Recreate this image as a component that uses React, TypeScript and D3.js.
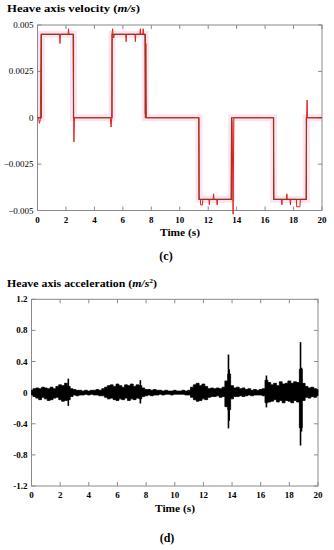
import React from "react";
import * as d3 from "d3";

// velocity (c): reference trajectory and measured response, [time s, m/s]
const velReference: [number, number][] = [
  [0, 0], [0.27, 0], [0.27, 0.0045], [2.53, 0.0045], [2.53, 0], [5.24, 0], [5.24, 0.0045],
  [7.58, 0.0045], [7.58, 0], [11.35, 0], [11.35, -0.0044], [13.65, -0.0044], [13.65, 0],
  [16.6, 0], [16.6, -0.0044], [18.9, -0.0044], [18.9, 0], [20, 0],
];

const velMeasured: [number, number][] = [
  [0, 0], [0.08, 0], [0.13, -0.0003], [0.2, -0.0001], [0.25, 0.0045], [1.55, 0.0045], [1.58, 0.004],
  [1.61, 0.0045], [2.15, 0.0045], [2.18, 0.0048], [2.21, 0.0045], [2.5, 0.0045], [2.54, 0],
  [2.56, -0.0013], [2.6, 0], [5.12, 0], [5.17, -0.0005], [5.22, 0], [5.25, 0.0046], [5.28, 0.0048],
  [5.31, 0.0045], [5.36, 0.0043], [5.4, 0.0045], [6.2, 0.0045], [6.23, 0.0041], [6.26, 0.0045],
  [6.85, 0.0045], [6.88, 0.0041], [6.91, 0.0045], [7.2, 0.0045], [7.23, 0.0048], [7.26, 0.0045],
  [7.4, 0.0045], [7.43, 0.0048], [7.46, 0.0045], [7.55, 0.0045], [7.58, 0.0002], [7.62, 0.004],
  [7.66, 0], [11.33, 0], [11.37, -0.0044], [11.45, -0.0044], [11.47, -0.0047], [11.6, -0.0047],
  [11.62, -0.0044], [12.05, -0.0044], [12.08, -0.0047], [12.11, -0.0044], [12.35, -0.0044],
  [12.38, -0.0041], [12.41, -0.0044], [12.6, -0.0044], [12.63, -0.0047], [12.66, -0.0044],
  [13.6, -0.0044], [13.64, 0], [13.68, -0.0002], [13.75, -0.0052], [13.8, 0], [16.58, 0],
  [16.62, -0.0044], [17.15, -0.0044], [17.18, -0.0047], [17.21, -0.0044], [17.5, -0.0044],
  [17.53, -0.0041], [17.56, -0.0044], [17.75, -0.0044], [17.78, -0.0047], [17.81, -0.0044],
  [18.2, -0.0044], [18.22, -0.0048], [18.45, -0.0048], [18.48, -0.0044], [18.88, -0.0044],
  [18.92, 0], [18.95, 0.00095], [18.98, 0], [20, 0],
];

const velTicks = [0.005, 0.0025, 0, -0.0025, -0.005];
const velTickLabels = ["0.005", "0.0025", "0", "\u22120.0025", "\u22120.005"];

// acceleration (d): envelope of the noisy signal every 0.2 s (m/s²)
const accStep = 0.2;
const accUpper = [
  0.03, 0.05, 0.06, 0.05, 0.07, 0.06, 0.05, 0.07, 0.05, 0.08,
  0.10, 0.09, 0.12, 0.08, 0.05, 0.04, 0.03, 0.03, 0.02, 0.03,
  0.02, 0.03, 0.03, 0.04, 0.03, 0.05, 0.07, 0.09, 0.10, 0.08,
  0.11, 0.09, 0.07, 0.10, 0.09, 0.11, 0.08, 0.10, 0.09, 0.06,
  0.04, 0.04, 0.03, 0.04, 0.03, 0.03, 0.02, 0.03, 0.02, 0.02,
  0.03, 0.02, 0.02, 0.03, 0.02, 0.03, 0.07, 0.10, 0.12, 0.09,
  0.11, 0.08, 0.05, 0.06, 0.05, 0.06, 0.05, 0.07, 0.15, 0.24,
  0.09, 0.06, 0.07, 0.05, 0.06, 0.04, 0.05, 0.03, 0.04, 0.03,
  0.04, 0.05, 0.16, 0.13, 0.10, 0.12, 0.09, 0.14, 0.11, 0.12,
  0.15, 0.12, 0.14, 0.13, 0.30, 0.12, 0.08, 0.06, 0.07, 0.05,
  0.04,
];
const accLower = [
  -0.03, -0.05, -0.07, -0.09, -0.06, -0.08, -0.10, -0.09, -0.07, -0.06,
  -0.09, -0.11, -0.10, -0.09, -0.05, -0.03, -0.04, -0.03, -0.03, -0.02,
  -0.03, -0.02, -0.03, -0.03, -0.04, -0.04, -0.06, -0.08, -0.07, -0.09,
  -0.10, -0.08, -0.09, -0.07, -0.10, -0.08, -0.09, -0.07, -0.08, -0.05,
  -0.04, -0.03, -0.04, -0.03, -0.03, -0.02, -0.03, -0.02, -0.02, -0.03,
  -0.02, -0.02, -0.02, -0.02, -0.03, -0.03, -0.06, -0.09, -0.11, -0.10,
  -0.08, -0.09, -0.06, -0.05, -0.05, -0.04, -0.06, -0.05, -0.18, -0.22,
  -0.08, -0.05, -0.05, -0.04, -0.05, -0.04, -0.03, -0.04, -0.03, -0.03,
  -0.03, -0.04, -0.13, -0.12, -0.11, -0.09, -0.12, -0.10, -0.13, -0.10,
  -0.11, -0.13, -0.10, -0.12, -0.45, -0.10, -0.06, -0.07, -0.05, -0.06,
  -0.04,
];
// isolated peaks
const spikeTimes = [2.57, 7.6, 13.75, 13.8, 16.4, 18.78, 18.85];
const spikeHigh = [0.18, 0.16, 0.49, 0.3, 0.22, 0.65, 0.32];
const spikeLow = [-0.17, -0.14, -0.46, -0.36, -0.19, -0.68, -0.5];

const accTicks = [1.2, 0.8, 0.4, 0, -0.4, -0.8, -1.2];
const accTickLabels = ["1.2", "0.8", "0.4", "0", "-0.4", "-0.8", "-1.2"];

const timeTicks = d3.range(0, 21, 2);

const FONT = "'Liberation Serif', 'DejaVu Serif', serif";
const FRAME = "#8a8a8a";

type Box = { left: number; right: number; top: number; bottom: number };

const Frame = ({ box, x, y, yTicks, yLabels, bold }: any) => (
  <g>
    <rect x={box.left} y={box.top} width={box.right - box.left} height={box.bottom - box.top}
      fill="none" stroke={FRAME} strokeWidth={1} />
    {timeTicks.map((t: number) => (
      <g key={"t" + t}>
        <line x1={x(t)} x2={x(t)} y1={box.top} y2={box.top + 4} stroke={FRAME} />
        <line x1={x(t)} x2={x(t)} y1={box.bottom} y2={box.bottom - 4} stroke={FRAME} />
      </g>
    ))}
    {yTicks.map((v: number, i: number) => (
      <g key={"y" + i}>
        <line x1={box.left} x2={box.left + 4} y1={y(v)} y2={y(v)} stroke={FRAME} />
        <line x1={box.right} x2={box.right - 4} y1={y(v)} y2={y(v)} stroke={FRAME} />
        <text x={box.left - 4} y={y(v) + 3} textAnchor="end" fontSize={9}
          fontWeight={bold ? "bold" : "normal"}>{yLabels[i]}</text>
      </g>
    ))}
  </g>
);

export default function App() {
  const topBox: Box = { left: 37.5, right: 322, top: 25, bottom: 210.5 };
  const botBox: Box = { left: 31.5, right: 318, top: 299.3, bottom: 486 };

  const xTop = d3.scaleLinear().domain([0, 20]).range([topBox.left, topBox.right]);
  const yTop = d3.scaleLinear().domain([-0.005, 0.005]).range([topBox.bottom, topBox.top]);
  const xBot = d3.scaleLinear().domain([0, 20]).range([botBox.left, botBox.right]);
  const yBot = d3.scaleLinear().domain([-1.2, 1.2]).range([botBox.bottom, botBox.top]);

  const velLine = d3.line<[number, number]>().x((d) => xTop(d[0])).y((d) => yTop(d[1]));

  const accArea = d3
    .area<number>()
    .curve(d3.curveStep)
    .x((_, i) => xBot(i * accStep))
    .y0((_, i) => yBot(accLower[i]))
    .y1((d) => yBot(d));

  return (
    <svg width={334} height={550} style={{ position: "absolute", left: 0, top: 0, fontFamily: FONT }}>
      <rect width={334} height={550} fill="#fff" />

      {/* (c) velocity */}
      <text x={7} y={11.5} fontSize={11} fontWeight="bold" textLength={133} lengthAdjust="spacingAndGlyphs">
        Heave axis velocity (<tspan fontStyle="italic">m/s</tspan>)
      </text>
      <path d={velLine(velReference) || ""} fill="none" stroke="#fbdcee" strokeWidth={7} opacity={0.8} />
      <Frame box={topBox} x={xTop} y={yTop} yTicks={velTicks} yLabels={velTickLabels} bold={false} />
      <path d={velLine(velMeasured) || ""} fill="none" stroke="#e3231a" strokeWidth={1} />
      <path d={velLine(velReference) || ""} fill="none" stroke="#8e3a1c" strokeWidth={1.2} />
      {timeTicks.map((t) => (
        <text key={"xc" + t} x={xTop(t)} y={223} textAnchor="middle" fontSize={9} fontWeight="bold">{t}</text>
      ))}
      <text x={180} y={236} textAnchor="middle" fontSize={11} fontWeight="bold" textLength={40}
        lengthAdjust="spacingAndGlyphs">Time (s)</text>
      <text x={166} y={259.5} textAnchor="middle" fontSize={12} fontWeight="bold">(c)</text>

      {/* (d) acceleration */}
      <text x={7} y={287} fontSize={11} fontWeight="bold" textLength={150} lengthAdjust="spacingAndGlyphs">
        Heave axis acceleration (<tspan fontStyle="italic">m/s</tspan>
        <tspan fontSize={7} dy={-4}>2</tspan><tspan dy={4}>)</tspan>
      </text>
      <Frame box={botBox} x={xBot} y={yBot} yTicks={accTicks} yLabels={accTickLabels} bold={true} />
      <path d={accArea(accUpper) || ""} fill="#000" stroke="#000" strokeWidth={0.8} />
      {spikeTimes.map((t, i) => (
        <line key={"s" + i} x1={xBot(t)} x2={xBot(t)} y1={yBot(spikeHigh[i])} y2={yBot(spikeLow[i])}
          stroke="#000" strokeWidth={1.6} />
      ))}
      {timeTicks.map((t) => (
        <text key={"xd" + t} x={xBot(t)} y={498} textAnchor="middle" fontSize={9} fontWeight="bold">{t}</text>
      ))}
      <text x={175} y={512} textAnchor="middle" fontSize={11} fontWeight="bold" textLength={40}
        lengthAdjust="spacingAndGlyphs">Time (s)</text>
      <text x={167} y={542} textAnchor="middle" fontSize={12} fontWeight="bold">(d)</text>
    </svg>
  );
}
